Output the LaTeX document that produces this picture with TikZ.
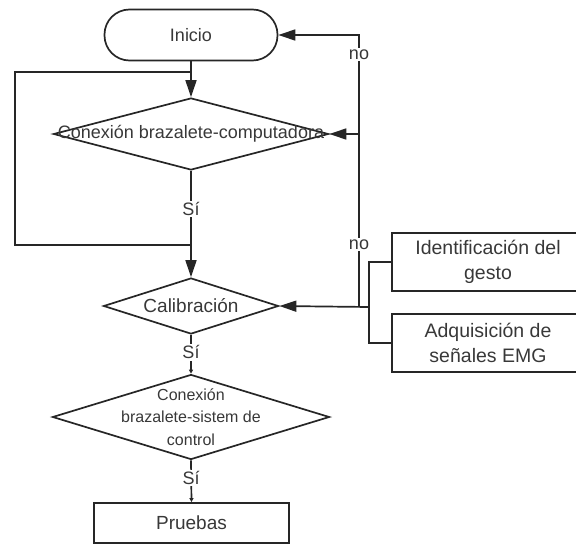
\documentclass[tikz,border=0pt]{standalone}
\usepackage{fontspec}
\setmainfont{Liberation Sans}
\usepackage{xcolor}
\colorlet{colLine}{black!85}
\colorlet{colText}{black!78}
\usetikzlibrary{arrows.meta, positioning, calc, shapes.geometric}
\tikzset{
  flowline/.style={line width=1.7pt, draw=colLine},
  txt/.style={font=\fontsize{18}{22}\selectfont, text=colText, align=center},
  terminal/.style={flowline, rectangle, rounded corners=25pt, minimum width=173pt, minimum height=51pt, txt},
  decision/.style={flowline, diamond, inner sep=0pt},
  process/.style={flowline, rectangle, inner sep=0pt, txt},
  lbl/.style={fill=white, inner sep=1.5pt, font=\fontsize{18}{20}\selectfont, text=colText},
}
\begin{document}
\begin{tikzpicture}[x=1pt, y=-1pt, >={Triangle[length=17pt,width=11pt]}]
				\useasboundingbox (0,0) rectangle (576,546);
				\clip (0,0) rectangle (576,546);
				% nodos del diagrama
				\node[terminal] (inicio) at (191,35) {Inicio};
				\node[decision, minimum width=275pt, minimum height=72pt,
					label={[txt]center:Conexión brazalete-computadora}] (conexPC) at (191,134) {};
				\node[decision, minimum width=175pt, minimum height=56pt,
					label={[txt, font=\fontsize{19}{22}\selectfont]center:Calibración}] (calib) at (191,306) {};
				\node[decision, minimum width=277pt, minimum height=85pt,
					label={[txt, font=\fontsize{16}{22.5}\selectfont]center:{Conexión\\brazalete-sistem de\\control}}] (conexCtrl) at (191,417) {};
				\node[process, minimum width=195pt, minimum height=40pt, font=\fontsize{19}{22}\selectfont] (pruebas) at (191.5,523) {Pruebas};
				\node[process, minimum width=192pt, minimum height=58pt, font=\fontsize{19.5}{24.5}\selectfont] (gesto) at (488,262) {Identificación del\\gesto};
				\node[process, minimum width=192pt, minimum height=58pt, font=\fontsize{19.5}{24.5}\selectfont] (emg) at (488,343) {Adquisición de\\señales EMG};
				% puntos de union
				\coordinate (jL0) at (191,72);
				\coordinate (lTop) at (15,72);
				\coordinate (lBot) at (15,245);
				\coordinate (jL1) at (191,245);
				\coordinate (jR1) at (359,35);
				\coordinate (jR2) at (359,134);
				\coordinate (jR3) at (359,307);
				\coordinate (brk) at (369,307);
				% conectores
				\draw[flowline, ->] (inicio) -- (conexPC);
				\draw[flowline] (jL0) -- (lTop) -- (lBot) -- (jL1);
				\draw[flowline, ->] (conexPC.south) -- node[lbl, pos=0.36] {Sí} (calib.north);
				\draw[flowline] (gesto.west) -| (brk) |- (emg.west);
				\draw[flowline, ->] (brk) -- (calib.east);
				\draw[flowline, ->] (jR3) -- node[lbl, pos=0.36] {no} (jR2) -- node[lbl, pos=0.8] {no} (jR1) -- (inicio.east);
				\draw[flowline, ->] (jR2) -- (conexPC.east);
				\draw[flowline, -{Triangle[length=4pt,width=4pt]}] (calib.south) -- node[lbl, pos=0.45] {Sí} (conexCtrl.north);
				\draw[flowline, -{Triangle[length=4pt,width=4pt]}] (conexCtrl.south) -- node[lbl, pos=0.42] {Sí} (pruebas.north);
			\end{tikzpicture}
\end{document}
